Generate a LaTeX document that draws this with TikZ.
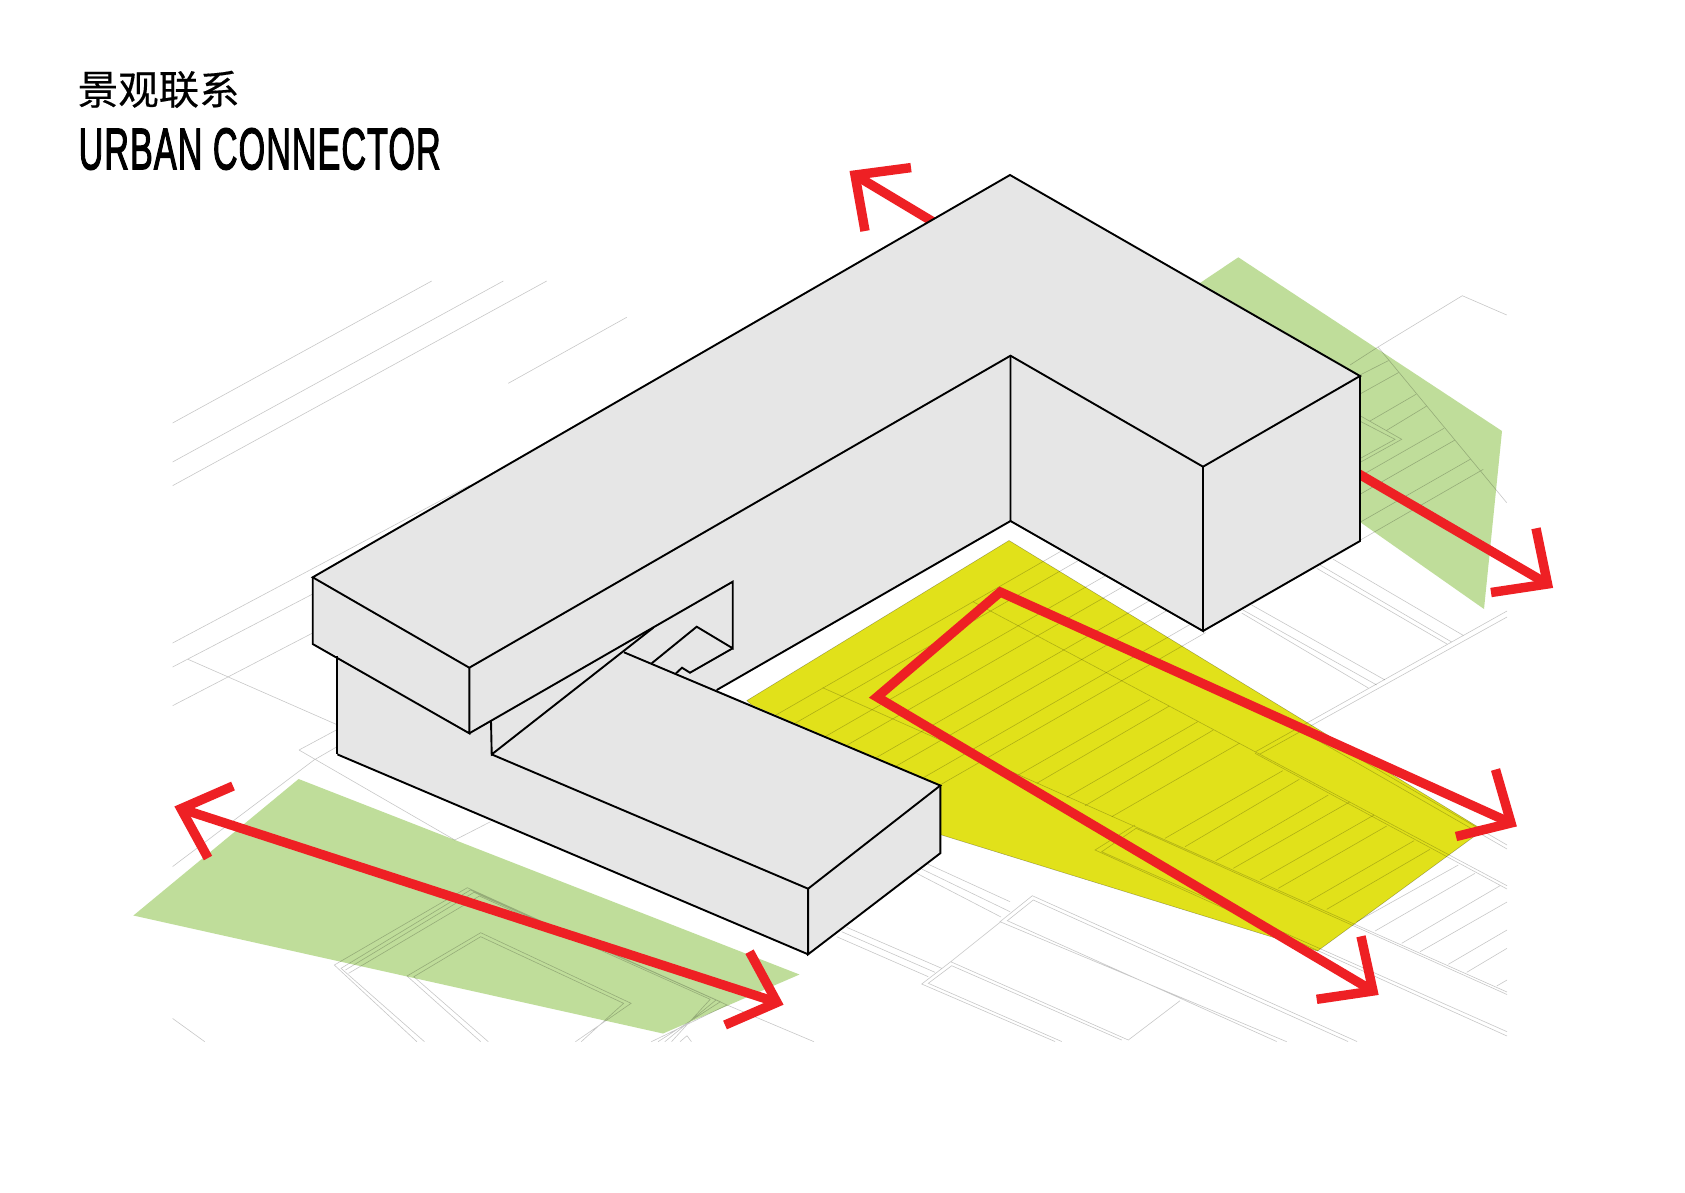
\documentclass[tikz,border=0pt]{standalone}
\usepackage{graphicx}
\usepackage{fontspec}
\setmainfont{Liberation Sans}
\newfontfamily\cjkfont[FakeBold=0.3]{Noto Sans CJK SC}
\newfontfamily\latintitle[FakeBold=2.5,LetterSpace=3]{Liberation Sans}
\definecolor{grassgreen}{HTML}{BFDD9A}
\definecolor{plazayellow}{HTML}{E1E11A}
\definecolor{arrowred}{HTML}{EE2024}
\definecolor{massgray}{HTML}{E6E6E6}
\tikzset{
  groundline/.style={draw=black,draw opacity=0.22,line width=0.6pt},
  greenzone/.style={fill=grassgreen},
  yellowzone/.style={fill=plazayellow,draw=black,draw opacity=0.3,line width=0.5pt},
  redarrow/.style={draw=arrowred,line width=9.4pt,line join=miter,miter limit=20,line cap=butt},
  massfill/.style={fill=massgray},
  massline/.style={draw=black,line width=1.9pt,line join=miter}
}
\begin{document}
\begin{tikzpicture}[x=1pt,y=-1pt]
\useasboundingbox (0,0) rectangle (1685,1192);
\fill[white] (0,0) rectangle (1685,1192);

% colour zones
\fill[greenzone] (1238.3,257.3) -- (1502,431) -- (1484,609) -- (1360,522) -- (1360,376) -- (1200,283) -- cycle;
\fill[greenzone] (298.6,779) -- (133.4,915.5) -- (663,1033.5) -- (799.5,974.5) -- cycle;
\path[yellowzone] (1009,540.5) -- (1483,830) -- (1317.5,951) -- (880,816) -- (746.8,700.6) -- cycle;

% ground linework
\begin{scope}
\clip (172.5,0) rectangle (1507,1041.5);
% upper left
\draw[groundline] (172,423.3) -- (431.7,281) (172,462.3) -- (503.3,281) (172,486) -- (546.7,281)
  (508.3,383.3) -- (626.7,317.3) (172,643.3) -- (470,485) (172,667.3) -- (330,585) (172,706) -- (330,624)
  (187.3,659) -- (340,726) (299,750) -- (340,728) (299,750) -- (454.8,840) -- (490.5,821.7)
  (172,867) -- (314,760) -- (340,745) (172,1018) -- (204.8,1041.7);
% nested block, lower left
\draw[groundline] (416.9,1041.7) -- (334.3,965) -- (467.3,887.7) -- (727.1,1005) -- (651.3,1041.7)
  (424.5,1041.7) -- (341,968.3) -- (470.4,890) -- (720.4,1001.7) -- (658,1041.7)
  (345.4,970) -- (474,892.3) -- (716,1000) -- (664.8,1041.7)
  (348.6,973.3) -- (479.4,896) -- (710.2,999.3) -- (671.5,1041.7)
  (480.7,1041.7) -- (407,976) -- (480.7,932.7) -- (631.1,1003.3) -- (575.4,1041.7)
  (488.3,1041.7) -- (413.8,976.7) -- (480.7,936.7) -- (623.6,1003.3) -- (581.2,1041.7)
  (680,1041.7) -- (687,1035.7) -- (691.4,1041.7)
  (727.1,1005) -- (814,1041.7);
% blocks under the low wing
\draw[groundline] (928.3,864.3) -- (1010,901.7) (921.7,869) -- (1010,911.7) (916.7,873.3) -- (1001,917)
  (846.7,927.3) -- (941.7,968.3) (841.7,931.7) -- (935,972.3) (836.7,936.7) -- (928.3,976.7);
\draw[groundline] (1128.3,1040) -- (950.7,961.7) -- (921.7,984) -- (1055,1041.5)
  (1121.7,1040) -- (951.7,965.7) -- (928.3,983.3) -- (1061.7,1041.5)
  (950.7,961.7) -- (1001,921.5)
  (1357,1041.5) -- (1032.3,895.7) -- (1000,921.7) -- (1286.7,1041.7)
  (1348,1041.5) -- (1033.3,900) -- (1007.3,920.7) -- (1276.7,1041.5)
  (1180,1000.7) -- (1128.3,1040);
% parking: spines
\draw[groundline] (822.7,687.7) -- (1507,992) (1136,828.3) -- (1507,994.5)
  (1135,825) -- (1095,850) -- (1507,1036) (1136,828.3) -- (1101.7,851.7) -- (1507,1031.7)
  (973,601.7) -- (1507,885.7) (1255,753.3) -- (1507,889)
  (1255,752) -- (1507,611) (1260,754) -- (1507,617)
  (1310,730) -- (1507,845) (1305,733) -- (1507,849);
% parking: stalls
\draw[groundline] (776,715) -- (1062,550.6) (795,723.3) -- (1079,560.2) (825,736.7) -- (1105.8,575.5)
  (846,745.7) -- (1124.2,586) (875,758.3) -- (1149.7,600.6) (895,766.7) -- (1167,610.5)
  (922.3,778.3) -- (1190.8,624) (940,785) -- (1205.6,632.6)
  (1018.3,775) -- (1150,699.5) (1036.7,783.3) -- (1169.3,706)
  (1066.7,797.3) -- (1197.7,721.7) (1085,805.7) -- (1213.3,730) (1111.7,816.7) -- (1239.3,743.3)
  (1165,838.3) -- (1282.7,770.7) (1185,846.7) -- (1299.3,779.3) (1215.7,860.7) -- (1328.3,795)
  (1233.3,868.3) -- (1349.5,802) (1260,880) -- (1374,815) (1278.3,888.3) -- (1386.7,826)
  (1308.3,901.7) -- (1414,840.7) (1326.7,909.3) -- (1430,849.3)
  (1356.7,921.7) -- (1458.3,865) (1375,931) -- (1475,873.3) (1401.7,943.3) -- (1500,885.7)
  (1420,951.7) -- (1507,902) (1448.3,964.3) -- (1507,930) (1466.7,972.3) -- (1507,948.3) (1496.7,986) -- (1507,980);
% white area below the right wing
\draw[groundline] (1251.7,605) -- (1385,680) (1243,610) -- (1376.7,685) (1241.7,613) -- (1368.3,688)
  (1333.3,559.3) -- (1463.3,635.4) (1320,565) -- (1451.5,641.9) (1316.7,568.3) -- (1447,644);
% right side, over the green
\draw[groundline] (1360,375) -- (1388.3,360.7) (1360,394) -- (1398.3,372.7)
  (1370,421) -- (1416,394.3) (1386,430.7) -- (1426.7,406)
  (1350,482) -- (1444,428.3) (1350,500) -- (1455,440) (1350,528) -- (1470.7,459) (1350,546) -- (1483.3,469.3)
  (1378,347) -- (1506.7,502.7) (1350,365) -- (1378,347) -- (1462.3,295.7) -- (1506.7,315)
  (1350,410) -- (1401.7,439.3) -- (1350,468) (1350,416) -- (1395,439.3) -- (1350,464);
\end{scope}

% arrows that run out from behind the building
\draw[redarrow] (950,232) -- (855,175);
\draw[redarrow] (911,167.6) -- (855,175) -- (865,231);
\draw[redarrow] (1340,463) -- (1547.5,584);
\draw[redarrow] (1536,528.3) -- (1547.5,584) -- (1491,592.5);

% building
\path[massfill] (312.7,577.3) -- (1010,175) -- (1360,376) -- (1360,541) -- (1203,631) -- (1010.5,521)
  -- (716.7,690) -- (940.3,785.5) -- (940.3,853.2) -- (808.1,954.3) -- (337.4,754.4) -- (337.4,656) -- (312.7,644) -- cycle;
\draw[massline] (312.7,577.3) -- (1010,175) -- (1360,376) -- (1203,466.7) -- (1010.5,355.7) -- (469.3,667.7) -- cycle;
\draw[massline] (312.7,577.3) -- (312.7,644) -- (469.3,733.3) -- (469.3,667.7);
\draw[massline] (469.3,733.3) -- (732.7,581.7) -- (732.7,648.3) -- (696.7,626.7) -- (651.7,663.3);
\draw[massline] (732.7,648.3) -- (690,672.7) -- (682,667.7) -- (676,673.3);
\draw[massline] (1010.5,355.7) -- (1010.5,521) -- (716.7,690);
\draw[massline] (1203,466.7) -- (1203,631) -- (1010.5,521);
\draw[massline] (1360,376) -- (1360,541) -- (1203,631);
\draw[massline] (337.4,656) -- (337.4,754.4);
\draw[massline] (491,721) -- (491.7,754.4) -- (653.3,627.7);
\draw[massline] (491.7,754.4) -- (808.1,888.7) -- (940.3,785.5) -- (624,652.3);
\draw[massline] (808.1,888.7) -- (808.1,954.3) -- (940.3,853.2) -- (940.3,785.5);
\draw[massline] (808.1,954.3) -- (337.4,754.4);

% arrows over the plaza and the lawn
\draw[redarrow] (1511,823) -- (1000.3,592) -- (877,697) -- (1373,991);
\draw[redarrow] (1495.5,769.5) -- (1511,823) -- (1456,836.5);
\draw[redarrow] (1361,936.3) -- (1373,991) -- (1316.7,999.3);
\draw[redarrow] (181,808.7) -- (777,1002.4);
\draw[redarrow] (233,786) -- (181,808.7) -- (208,858);
\draw[redarrow] (749.5,951.7) -- (777,1002.4) -- (725,1025);

% title
\node[anchor=base west,inner sep=0pt] (titlecn) at (77.5,104.5) {\fontsize{40.5pt}{41pt}\cjkfont 景观联系};
\node[anchor=south west,inner sep=0pt] (titleen) at (78.5,170) {\resizebox{362pt}{41pt}{\latintitle URBAN CONNECTOR}};
\end{tikzpicture}
\end{document}
